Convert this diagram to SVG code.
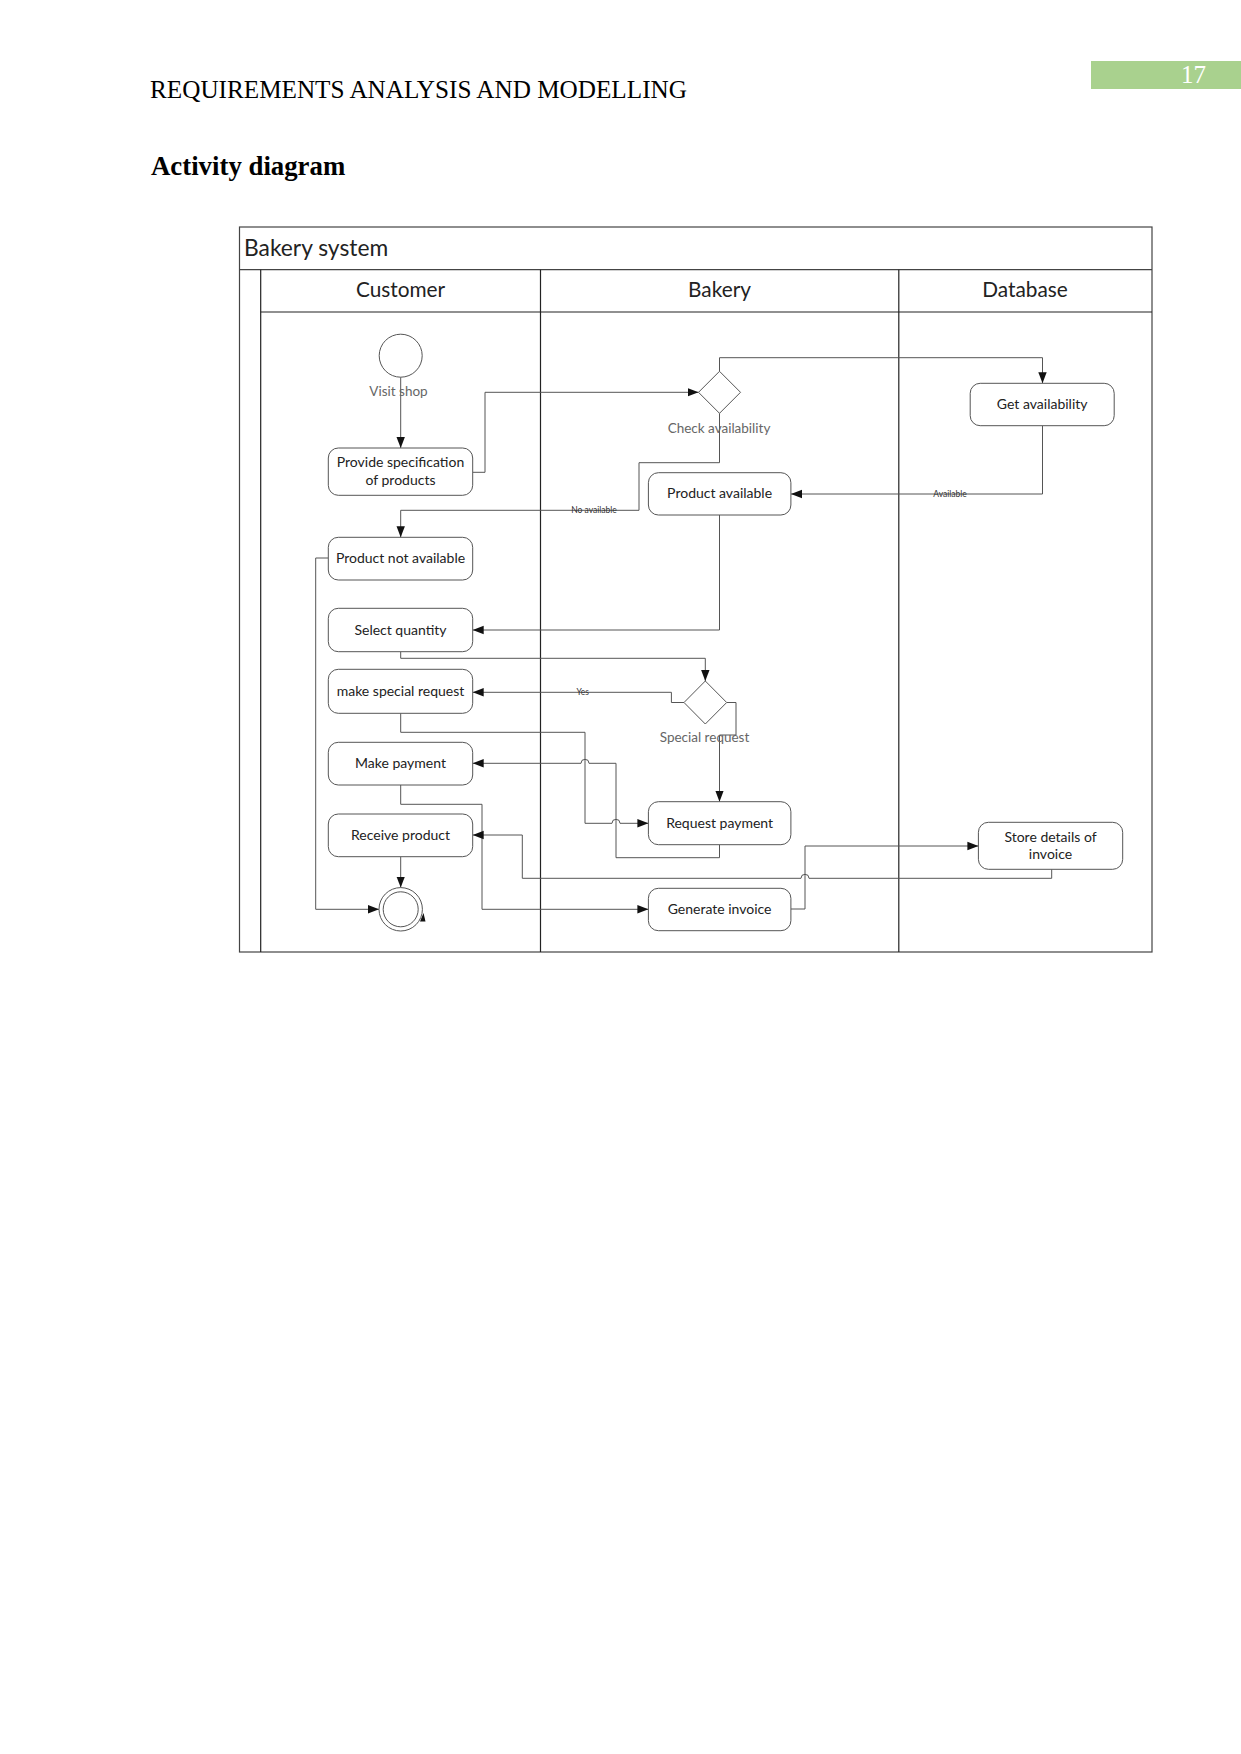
<svg xmlns="http://www.w3.org/2000/svg" width="1241" height="1754" viewBox="0 0 1241 1754">
<defs>
<style>
.hdr{font-family:"Liberation Serif",serif;font-size:25.2px;fill:#000}
.title{font-family:"Liberation Serif",serif;font-size:26.8px;font-weight:bold;fill:#000}
.pool{fill:none;stroke:#444;stroke-width:1.2}
.lane{fill:none;stroke:#222;stroke-width:1.2}
.ltxt{font-family:Lato,"Open Sans",sans-serif;fill:#222}
.node rect{fill:#fff;stroke:#555;stroke-width:1}
.ntxt{font-family:Lato,"Open Sans",sans-serif;font-size:14px;fill:#222;text-anchor:middle}
.glabel{font-family:Lato,"Open Sans",sans-serif;font-size:13.5px;fill:#666;text-anchor:middle}
.conn path{fill:none;stroke:#555;stroke-width:1}
.elabel{font-family:Lato,"Open Sans",sans-serif;font-size:8.5px;fill:#333;text-anchor:middle}
</style>
<marker id="arr" markerWidth="12" markerHeight="10" refX="11" refY="5" orient="auto" markerUnits="userSpaceOnUse">
<path d="M0,0.8 L11,5 L0,9.2 Z" fill="#111"/>
</marker>
</defs>
<rect width="1241" height="1754" fill="#fff"/>

<!-- page header -->
<text class="hdr" x="150" y="97.5">REQUIREMENTS ANALYSIS AND MODELLING</text>
<rect x="1091" y="61" width="150" height="28" fill="#a9d18e"/>
<text x="1181" y="82.5" font-family="Liberation Serif, serif" font-size="25" fill="#fff">17</text>
<text class="title" x="151" y="174.5">Activity diagram</text>

<!-- swimlane frame -->
<g id="pool">
<rect class="pool" x="239.5" y="227" width="912.5" height="725"/>
<line class="pool" x1="239.5" y1="269.7" x2="1152" y2="269.7"/>
<line class="lane" x1="260.7" y1="269.7" x2="260.7" y2="952"/>
<line class="lane" x1="260.7" y1="312" x2="1152" y2="312"/>
<line class="lane" x1="540.5" y1="269.7" x2="540.5" y2="952"/>
<line class="lane" x1="898.8" y1="269.7" x2="898.8" y2="952"/>
<text class="ltxt" x="244" y="255.5" font-size="22.8">Bakery system</text>
<text class="ltxt" x="400.5" y="297" font-size="20.8" text-anchor="middle">Customer</text>
<text class="ltxt" x="719.5" y="297" font-size="20.8" text-anchor="middle">Bakery</text>
<text class="ltxt" x="1025" y="297" font-size="20.8" text-anchor="middle">Database</text>
</g>

<!-- connectors -->
<g id="connectors" class="conn">
<path d="M400.7,377.2 V448" marker-end="url(#arr)"/>
<path d="M472.7,472.3 H485 V392.3 H698.5" marker-end="url(#arr)"/>
<path d="M719.5,371.3 V357.7 H1042.5 V383.3" marker-end="url(#arr)"/>
<path d="M1042.5,425.7 V494 H791" marker-end="url(#arr)"/>
<path d="M719.5,413.3 V462.7 H639 V510.3 H400.7 V537.3" marker-end="url(#arr)"/>
<path d="M719.5,515 V630 H472.7" marker-end="url(#arr)"/>
<path d="M400.7,651.7 V658.3 H705.3 V681" marker-end="url(#arr)"/>
<path d="M684,702.5 H671.4 V692.3 H472.7" marker-end="url(#arr)"/>
<path d="M726.7,702.5 H736 V735 H719.5 V801.7" marker-end="url(#arr)"/>
<path d="M400.7,713.3 V732.3 H585 V823.3 H612 A4,4 0 0 1 620,823.3 H648.4" marker-end="url(#arr)"/>
<path d="M719.5,844.7 V857.7 H616 V763.3 H589 A4,4 0 0 0 581,763.3 H472.7" marker-end="url(#arr)"/>
<path d="M400.7,785 V804.3 H482 V909.3 H648.4" marker-end="url(#arr)"/>
<path d="M790.9,909 H805 V846 H978.4" marker-end="url(#arr)"/>
<path d="M1051.7,869.3 V878.3 H809 A4,4 0 0 0 801,878.3 H522.3 V835 H472.7" marker-end="url(#arr)"/>
<path d="M328.3,558 H315.7 V909.3 H379" marker-end="url(#arr)"/>
<path d="M400.7,856.7 V887.6" marker-end="url(#arr)"/>
<polygon points="420,921.5 425.5,921.5 423.5,913" fill="#111"/>
<text class="elabel" x="594" y="513">No available</text>
<text class="elabel" x="950" y="497">Available</text>
<text class="elabel" x="582.7" y="695">Yes</text>
</g>

<!-- nodes -->
<g id="start" class="node">
<circle cx="400.7" cy="355.7" r="21.5" fill="#fff" stroke="#555" stroke-width="1"/>
<text class="glabel" x="398.5" y="396">Visit shop</text>
</g>
<g id="provide-spec" class="node">
<rect x="328.3" y="448" width="144.4" height="47.3" rx="10"/>
<text class="ntxt" x="400.5" y="467">Provide specification</text>
<text class="ntxt" x="400.5" y="484.5">of products</text>
</g>
<g id="check-availability" class="node">
<polygon points="719.5,371.3 740.5,392.3 719.5,413.3 698.5,392.3" fill="#fff" stroke="#555" stroke-width="1"/>
<text class="glabel" x="719" y="432.5">Check availability</text>
</g>
<g id="get-availability" class="node">
<rect x="970.2" y="383.3" width="144" height="42.4" rx="10"/>
<text class="ntxt" x="1042.2" y="409">Get availability</text>
</g>
<g id="product-available" class="node">
<rect x="648.4" y="472.7" width="142.5" height="42.3" rx="10"/>
<text class="ntxt" x="719.6" y="498.3">Product available</text>
</g>
<g id="product-not-available" class="node">
<rect x="328.3" y="537.3" width="144.4" height="42.7" rx="10"/>
<text class="ntxt" x="400.5" y="563">Product not available</text>
</g>
<g id="select-quantity" class="node">
<rect x="328.3" y="608.3" width="144.4" height="43.4" rx="10"/>
<text class="ntxt" x="400.5" y="635">Select quantity</text>
</g>
<g id="special-request" class="node">
<polygon points="705.3,681 726.7,702.5 705.3,724 684,702.5" fill="#fff" stroke="#555" stroke-width="1"/>
<text class="glabel" x="704.5" y="742">Special request</text>
</g>
<g id="make-special-request" class="node">
<rect x="328.3" y="669.3" width="144.4" height="44" rx="10"/>
<text class="ntxt" x="400.5" y="696">make special request</text>
</g>
<g id="make-payment" class="node">
<rect x="328.3" y="742.3" width="144.4" height="42.7" rx="10"/>
<text class="ntxt" x="400.5" y="768.3">Make payment</text>
</g>
<g id="request-payment" class="node">
<rect x="648.4" y="801.7" width="142.5" height="43" rx="10"/>
<text class="ntxt" x="719.6" y="828.3">Request payment</text>
</g>
<g id="receive-product" class="node">
<rect x="328.3" y="814" width="144.4" height="42.7" rx="10"/>
<text class="ntxt" x="400.5" y="840">Receive product</text>
</g>
<g id="store-details" class="node">
<rect x="978.4" y="822.3" width="144.3" height="47" rx="10"/>
<text class="ntxt" x="1050.5" y="841.5">Store details of</text>
<text class="ntxt" x="1050.5" y="859">invoice</text>
</g>
<g id="generate-invoice" class="node">
<rect x="648.4" y="888.3" width="142.5" height="42.4" rx="10"/>
<text class="ntxt" x="719.6" y="914">Generate invoice</text>
</g>
<g id="final" class="node">
<circle cx="400.7" cy="909.3" r="21.7" fill="#fff" stroke="#555" stroke-width="1"/>
<circle cx="400.7" cy="909.3" r="17.5" fill="#fff" stroke="#555" stroke-width="1"/>
</g>
</svg>
